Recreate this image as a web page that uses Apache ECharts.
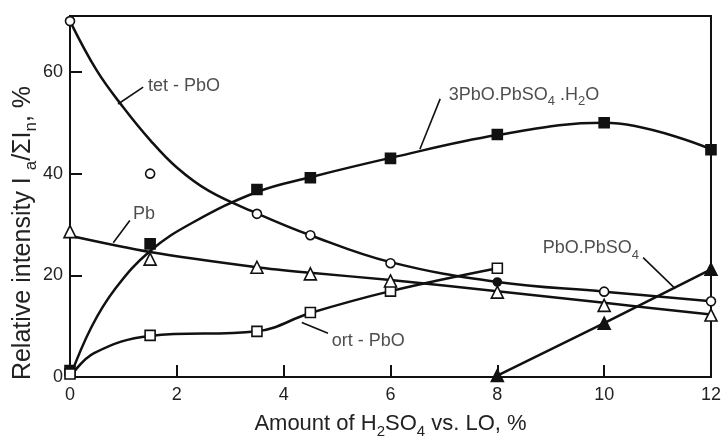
<!DOCTYPE html>
<html>
<head>
<meta charset="utf-8">
<script src="https://cdn.jsdelivr.net/npm/echarts@6/dist/echarts.min.js"></script>
<style>
html,body{margin:0;padding:0;background:#fff;}
#chart{width:724px;height:444px;}
</style>
</head>
<body>
<div id="chart"></div>
<script>
// ---- axis ticks ----
const xTicks = [0, 2, 4, 6, 8, 10, 12];
const yTicks = [0, 20, 40, 60];

// ---- tet-PbO (open circles) ----
const tetPbO_pts = [[0, 70], [1.5, 40], [3.5, 32.1], [4.5, 27.9], [6, 22.4], [10, 16.8], [12, 14.9]];
const tetPbO_filled = [[8, 18.7]];
const tetPbO_curve = [[0, 70], [0.5, 60.3], [1, 53.0], [1.5, 46.6], [2, 41.2], [2.6, 36.6], [3.5, 32.2], [4.5, 27.9], [6, 22.6], [8, 18.7], [10, 16.8], [12, 14.9]];

// ---- 3PbO.PbSO4.H2O (filled squares) ----
const tribasic_pts = [[0, 1.3], [1.5, 26.2], [3.5, 36.9], [4.5, 39.2], [6, 43.0], [8, 47.7], [10, 50.0], [12, 44.7]];
const tribasic_curve = [[0, 0], [0.4, 9.8], [0.85, 17.4], [1.5, 24.8], [2.3, 30.4], [3.5, 36.4], [4.5, 39.3], [6, 43.1], [8, 47.6], [10, 50.0], [12, 44.8]];

// ---- Pb (open triangles) ----
const pb_pts = [[0, 28.6], [1.5, 23.2], [3.5, 21.6], [4.5, 20.3], [6, 18.9], [8, 16.7], [10, 14.1], [12, 12.2]];
const pb_curve = [[0, 27.8], [1.5, 24.6], [3.5, 21.6], [4.5, 20.5], [6, 19.1], [8, 16.9], [10, 14.6], [12, 12.3]];

// ---- ort-PbO (open squares) ----
const ortPbO_pts = [[0, 0.6], [1.5, 8.2], [3.5, 9.0], [4.5, 12.7], [6, 16.9], [8, 21.4]];
const ortPbO_curve = [[0, 0], [0.45, 4.7], [1.5, 8.1], [3.5, 9.0], [4.5, 12.6], [6, 16.9], [8, 21.4]];

// ---- PbO.PbSO4 (filled triangles) ----
const monobasic_pts = [[8, 0.3], [10, 10.6], [12, 21.2]];

// ---- annotation labels and leader lines ----
const annotLabels = [
  {text: 'tet - PbO', at: [1.46, 57.2]},
  {text: '3PbO.PbSO{s|4} .H{s|2}O', at: [7.09, 55.4]},
  {text: 'Pb', at: [1.18, 32.0]},
  {text: 'ort - PbO', at: [4.9, 7.0]},
  {text: 'PbO.PbSO{s|4}', at: [8.85, 25.3]}
];
const leaderLines = [
  [[1.37, 57.0], [0.9, 53.7]],
  [[6.93, 54.7], [6.55, 44.8]],
  [[1.12, 30.8], [0.81, 26.4]],
  [[4.83, 8.6], [4.34, 10.75]],
  [[10.73, 23.5], [11.33, 17.4]]
];

const FONT = 'Liberation Sans, Arial, sans-serif';
const INK = '#111';
const TXT = '#222';

const chart = echarts.init(document.getElementById('chart'), null, {renderer: 'canvas'});

function curve(data, sm) {
  return {type: 'line', data: data, smooth: sm, showSymbol: false, symbol: 'none',
    lineStyle: {color: INK, width: 2.5}, silent: true, z: 2};
}
function marks(data, symbol, size, filled) {
  return {type: 'scatter', data: data, symbol: symbol, symbolSize: size, silent: true, z: 5,
    itemStyle: {color: filled ? INK : '#fff', borderColor: INK, borderWidth: 1.6, opacity: 1}};
}

const subRich = {s: {fontSize: 13, lineHeight: 13, verticalAlign: 'bottom', fontFamily: FONT, color: TXT}};

chart.setOption({
  animation: false,
  backgroundColor: '#fff',
  grid: {left: 70, right: 13, top: 16, bottom: 56, show: true, borderColor: INK, borderWidth: 2, backgroundColor: 'transparent'},
  xAxis: {
    type: 'value', min: xTicks[0], max: xTicks[xTicks.length - 1], interval: 2,
    name: 'Amount of H{s|2}SO{s|4} vs. LO, %',
    nameLocation: 'middle', nameGap: 27,
    nameTextStyle: {fontSize: 22, fontFamily: FONT, color: TXT, lineHeight: 30, rich: {s: {fontSize: 15, lineHeight: 15, verticalAlign: 'bottom', fontFamily: FONT, color: TXT}}},
    axisLine: {lineStyle: {color: INK, width: 2}},
    axisTick: {inside: true, length: 12, lineStyle: {color: INK, width: 2}},
    axisLabel: {fontSize: 18, fontFamily: FONT, color: TXT, margin: 9},
    splitLine: {show: false}
  },
  yAxis: {
    type: 'value', min: 0, max: 71, interval: 20,
    axisLine: {lineStyle: {color: INK, width: 2}},
    axisTick: {inside: true, length: 12, lineStyle: {color: INK, width: 2}},
    axisLabel: {fontSize: 18, fontFamily: FONT, color: TXT, margin: 7,
      formatter: v => (yTicks.indexOf(v) >= 0 ? String(v) : '')},
    splitLine: {show: false}
  },
  graphic: [{
    type: 'text', x: 23, y: 233, rotation: Math.PI / 2, silent: true,
    style: {
      text: 'Relative intensity I {s|a}/ΣI{s|n}, %',
      fontSize: 25, fontFamily: FONT, fill: TXT, lineHeight: 33,
      align: 'center', verticalAlign: 'middle',
      rich: {s: {fontSize: 17, lineHeight: 17, verticalAlign: 'bottom', fontFamily: FONT, fill: TXT}}
    }
  }],
  series: [
    curve(tetPbO_curve, 0.4),
    curve(tribasic_curve, 0.4),
    curve(pb_curve, 0.3),
    curve(ortPbO_curve, 0.4),
    {type: 'line', data: monobasic_pts, smooth: false, showSymbol: false, symbol: 'none',
      lineStyle: {color: INK, width: 2.5}, silent: true, z: 2},
    {type: 'lines', coordinateSystem: 'cartesian2d', silent: true, z: 3,
      lineStyle: {color: INK, width: 1.6, opacity: 1},
      data: leaderLines.map(c => ({coords: c}))},
    marks(tribasic_pts, 'rect', 10, true),
    marks(ortPbO_pts, 'rect', 10, false),
    marks(tetPbO_pts, 'circle', 9, false),
    marks(tetPbO_filled, 'circle', 8, true),
    marks(pb_pts, 'triangle', 12, false),
    marks(monobasic_pts, 'triangle', 12, true),
    {type: 'scatter', symbolSize: 0, silent: true, z: 6,
      data: annotLabels.map(a => ({value: a.at, label: {formatter: a.text}})),
      label: {show: true, position: 'right', distance: 0, fontSize: 18, fontFamily: FONT, color: TXT, lineHeight: 26, rich: subRich}}
  ]
});
</script>
</body>
</html>
